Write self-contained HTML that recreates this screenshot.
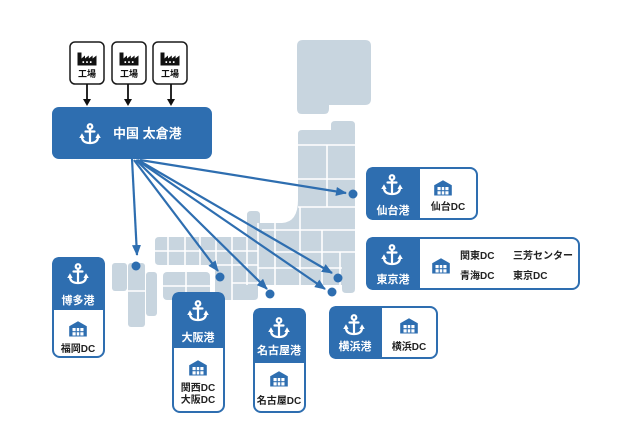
<!DOCTYPE html>
<html><head><meta charset="utf-8">
<style>
html,body{margin:0;padding:0;background:#fff;}
body{width:622px;height:428px;overflow:hidden;}
svg{display:block;}
</style></head>
<body>
<svg width="622" height="428" viewBox="0 0 622 428" xmlns="http://www.w3.org/2000/svg" font-family="'Liberation Sans','Noto Sans CJK JP',sans-serif" font-weight="bold">
<defs>
  <g id="anc">
    <g fill="none" stroke="#fff" stroke-width="2.2" stroke-linecap="round">
      <circle cx="0" cy="-7.5" r="2.3"/>
      <line x1="0" y1="-5" x2="0" y2="9"/>
      <line x1="-4.5" y1="-2.5" x2="4.5" y2="-2.5"/>
      <path d="M-8,2.5 Q-8,9 0,9 Q8,9 8,2.5"/>
    </g>
    <path d="M-10.8,4 L-8,-0.8 L-5.4,4 Z" fill="#fff"/>
    <path d="M10.8,4 L8,-0.8 L5.4,4 Z" fill="#fff"/>
  </g>
  <g id="wh">
    <path d="M-8.8,7.5 V-2.8 L0,-7.8 L8.8,-2.8 V7.5 Z" fill="#2e6eb0"/>
    <rect x="-5.5" y="-1" width="11" height="7.5" fill="#fff"/>
    <g stroke="#2e6eb0" stroke-width="1.1">
      <line x1="-1.8" y1="-1" x2="-1.8" y2="6.5"/>
      <line x1="1.8" y1="-1" x2="1.8" y2="6.5"/>
      <line x1="-5.5" y1="2.7" x2="5.5" y2="2.7"/>
    </g>
  </g>
  <g id="fac">
    <path d="M-9.5,5.5 V-7.5 H-5.5 V-1.5 L-2,-4.5 V-1.5 L1.8,-4.5 V-1.5 L5.6,-4.5 V-1.5 L9.5,-4.5 V5.5 Z" fill="#111"/>
    <rect x="-4.5" y="1.2" width="1.6" height="1.8" fill="#fff"/>
    <rect x="-0.8" y="1.2" width="1.6" height="1.8" fill="#fff"/>
    <rect x="2.9" y="1.2" width="1.6" height="1.8" fill="#fff"/>
  </g>
  <marker id="ah" markerUnits="userSpaceOnUse" markerWidth="11" markerHeight="9" refX="10" refY="4.5" orient="auto">
    <path d="M0,0 L11,4.5 L0,9 Z" fill="#2e6eb0"/>
  </marker>
</defs>

<!-- MAP -->
<g fill="#c8d5df">
  <path d="M297,46 Q297,40 303,40 H365 Q371,40 371,46 V99 Q371,105 365,105 H329 V109 Q329,114 324,114 H302 Q297,114 297,109 Z"/>
  <path d="M155,241 Q155,237 159,237 H247 V215 Q247,211 251,211 H256 Q260,211 260,215 V223 H282 Q298,222 298,200 V134 Q298,130 302,130 H331 V125 Q331,121 335,121 H351 Q355,121 355,125 V289 Q355,293 351,293 H346 Q342,293 342,289 V285 H258 V296 Q258,300 254,300 H219 Q215,300 215,296 V265 H159 Q155,265 155,261 Z"/>
  <rect x="163" y="272" width="47" height="28" rx="4"/>
  <rect x="112" y="263" width="15" height="28" rx="3"/>
  <rect x="128" y="263" width="17" height="64" rx="3"/>
  <rect x="146" y="272" width="11" height="44" rx="3"/>
</g>
<g stroke="#fff" stroke-width="1.6" fill="none">
  <line x1="298" y1="145" x2="355" y2="145"/>
  <line x1="298" y1="179" x2="355" y2="179"/>
  <line x1="327" y1="145" x2="327" y2="207"/>
  <line x1="298" y1="207" x2="355" y2="207"/>
  <line x1="262" y1="230" x2="355" y2="230"/>
  <line x1="275" y1="252" x2="355" y2="252"/>
  <line x1="258" y1="268" x2="342" y2="268"/>
  <line x1="258" y1="223" x2="258" y2="285"/>
  <line x1="275" y1="223" x2="275" y2="285"/>
  <line x1="300" y1="207" x2="300" y2="285"/>
  <line x1="322" y1="230" x2="322" y2="285"/>
  <line x1="340" y1="252" x2="340" y2="285"/>
  <line x1="155" y1="251" x2="258" y2="251"/>
  <line x1="168" y1="237" x2="168" y2="265"/>
  <line x1="185" y1="237" x2="185" y2="265"/>
  <line x1="200" y1="237" x2="200" y2="265"/>
  <line x1="216" y1="237" x2="216" y2="265"/>
  <line x1="232" y1="237" x2="232" y2="300"/>
  <line x1="247" y1="237" x2="247" y2="285"/>
  <line x1="215" y1="265" x2="258" y2="265"/>
  <line x1="232" y1="283" x2="258" y2="283"/>
  <line x1="186" y1="272" x2="186" y2="300"/>
  <line x1="163" y1="286" x2="210" y2="286"/>
  <line x1="128" y1="291" x2="145" y2="291"/>
</g>

<!-- Factories -->
<g>
  <rect x="70" y="42" width="34" height="42" rx="5" fill="#fff" stroke="#1a1a1a" stroke-width="1.5"/>
  <rect x="112" y="42" width="34" height="42" rx="5" fill="#fff" stroke="#1a1a1a" stroke-width="1.5"/>
  <rect x="153" y="42" width="34" height="42" rx="5" fill="#fff" stroke="#1a1a1a" stroke-width="1.5"/>
  <use href="#fac" x="87" y="60"/>
  <use href="#fac" x="129" y="60"/>
  <use href="#fac" x="170" y="60"/>
  <g font-size="9" fill="#111" text-anchor="middle">
    <text x="87" y="77">工場</text>
    <text x="129" y="77">工場</text>
    <text x="170" y="77">工場</text>
  </g>
  <g stroke="#111" stroke-width="1.8">
    <line x1="87" y1="84" x2="87" y2="100"/>
    <line x1="128" y1="84" x2="128" y2="100"/>
    <line x1="171" y1="84" x2="171" y2="100"/>
  </g>
  <g fill="#111">
    <path d="M83,99 L91,99 L87,106 Z"/>
    <path d="M124,99 L132,99 L128,106 Z"/>
    <path d="M167,99 L175,99 L171,106 Z"/>
  </g>
</g>

<!-- China port -->
<rect x="52" y="107" width="160" height="52" rx="7" fill="#2e6eb0"/>
<use href="#anc" x="90" y="134"/>
<text x="113" y="138" font-size="13" fill="#fff">中国 太倉港</text>

<!-- Arrows -->
<g stroke="#2e6eb0" stroke-width="2.2" fill="none" marker-end="url(#ah)">
  <line x1="132" y1="159" x2="137" y2="255"/>
  <line x1="140" y1="160" x2="346" y2="193"/>
  <line x1="134" y1="160" x2="218" y2="271"/>
  <line x1="136" y1="160" x2="267" y2="289"/>
  <line x1="138" y1="160" x2="332" y2="273"/>
  <line x1="137" y1="160" x2="325" y2="289"/>
</g>
<g fill="#2e6eb0">
  <circle cx="136" cy="266" r="4.5"/>
  <circle cx="353" cy="194" r="4.5"/>
  <circle cx="220" cy="277" r="4.5"/>
  <circle cx="270" cy="294" r="4.5"/>
  <circle cx="338" cy="278" r="4.5"/>
  <circle cx="332" cy="292" r="4.5"/>
</g>

<!-- Sendai -->
<rect x="367" y="168" width="110" height="51" rx="7" fill="#fff" stroke="#2e6eb0" stroke-width="2"/>
<path d="M374,167 H420 V220 H374 Q366,220 366,212 V175 Q366,167 374,167 Z" fill="#2e6eb0"/>
<use href="#anc" x="392" y="185"/>
<text x="393" y="214" font-size="11" fill="#fff" text-anchor="middle">仙台港</text>
<use href="#wh" x="443" y="188"/>
<text x="448" y="210" font-size="10" fill="#222" text-anchor="middle">仙台DC</text>

<!-- Tokyo -->
<rect x="367" y="238" width="212" height="51" rx="7" fill="#fff" stroke="#2e6eb0" stroke-width="2"/>
<path d="M374,237 H420 V290 H374 Q366,290 366,282 V245 Q366,237 374,237 Z" fill="#2e6eb0"/>
<use href="#anc" x="392" y="255"/>
<text x="393" y="283" font-size="11" fill="#fff" text-anchor="middle">東京港</text>
<use href="#wh" x="441" y="266"/>
<g font-size="10" fill="#222">
  <text x="460" y="259">関東DC</text>
  <text x="513" y="259">三芳センター</text>
  <text x="460" y="279">青海DC</text>
  <text x="513" y="279">東京DC</text>
</g>

<!-- Yokohama -->
<rect x="330" y="307" width="107" height="51" rx="7" fill="#fff" stroke="#2e6eb0" stroke-width="2"/>
<path d="M337,306 H382 V359 H337 Q329,359 329,351 V314 Q329,306 337,306 Z" fill="#2e6eb0"/>
<use href="#anc" x="354" y="325"/>
<text x="355" y="350" font-size="11" fill="#fff" text-anchor="middle">横浜港</text>
<use href="#wh" x="409" y="326"/>
<text x="409" y="350" font-size="10" fill="#222" text-anchor="middle">横浜DC</text>

<!-- Hakata -->
<rect x="53" y="258" width="51" height="99" rx="7" fill="#fff" stroke="#2e6eb0" stroke-width="2"/>
<path d="M52,265 Q52,257 60,257 H97 Q105,257 105,265 V310 H52 Z" fill="#2e6eb0"/>
<use href="#anc" x="78" y="274"/>
<text x="78" y="304" font-size="11" fill="#fff" text-anchor="middle">博多港</text>
<use href="#wh" x="78" y="329"/>
<text x="78" y="352" font-size="10" fill="#222" text-anchor="middle">福岡DC</text>

<!-- Osaka -->
<rect x="173" y="293" width="51" height="119" rx="7" fill="#fff" stroke="#2e6eb0" stroke-width="2"/>
<path d="M172,300 Q172,292 180,292 H217 Q225,292 225,300 V348 H172 Z" fill="#2e6eb0"/>
<use href="#anc" x="198" y="311"/>
<text x="198" y="341" font-size="11" fill="#fff" text-anchor="middle">大阪港</text>
<use href="#wh" x="198" y="368"/>
<text x="198" y="391" font-size="10" fill="#222" text-anchor="middle">関西DC</text>
<text x="198" y="403" font-size="10" fill="#222" text-anchor="middle">大阪DC</text>

<!-- Nagoya -->
<rect x="254" y="309" width="51" height="103" rx="7" fill="#fff" stroke="#2e6eb0" stroke-width="2"/>
<path d="M253,316 Q253,308 261,308 H298 Q306,308 306,316 V363 H253 Z" fill="#2e6eb0"/>
<use href="#anc" x="279" y="328"/>
<text x="279" y="354" font-size="11" fill="#fff" text-anchor="middle">名古屋港</text>
<use href="#wh" x="279" y="379"/>
<text x="279" y="404" font-size="10" fill="#222" text-anchor="middle">名古屋DC</text>
</svg>
</body></html>
